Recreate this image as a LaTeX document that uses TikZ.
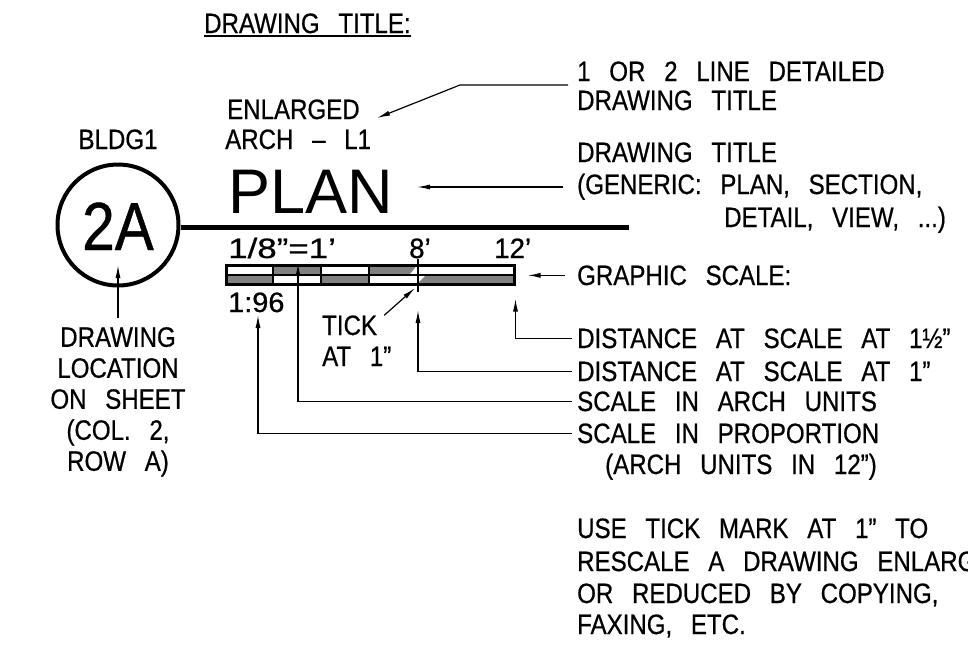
\documentclass[tikz,border=0pt]{standalone}
\usepackage{fontspec}
\setmainfont[FakeStretch=0.86,WordSpace=2.8,FakeBold=0.6]{Liberation Sans}
\newfontfamily\bigfont{Liberation Sans}
\usetikzlibrary{arrows.meta}

\tikzset{
  txt/.style={inner sep=0pt,anchor=base west,font=\fontsize{28}{31}\selectfont},
  ctxt/.style={txt,anchor=base},
  lead/.style={line width=1.2pt},
  leadarrow/.style={lead,-{Latex[length=13pt,width=5pt]}},
  cell/.style={fill=black!50},
}

\begin{document}
\begin{tikzpicture}[x=1pt,y=-1pt]
		\useasboundingbox (0,0) rectangle (968,646);
		\clip (0,0) rectangle (968,646);
		% heading
		\node[txt] (head) at (204,33) {DRAWING TITLE:};
		\draw[line width=1.8pt] ([yshift=-3pt]head.base west) -- ([yshift=-3pt]head.base east);
		% bubble and title line
		\node[circle,draw,line width=4pt,minimum size=121pt,inner sep=0pt] (bub) at (118,225) {};
		\node[ctxt,font=\fontsize{68}{68}\selectfont] (num) at (118,250) {2A};
		\node[ctxt] (bldg) at (118,149) {BLDG1};
		\coordinate (lend) at (629,227);
		\draw[line width=5pt] (bub.east |- lend) -- (lend);
		\node[txt] (enl) at (227,119) {ENLARGED};
		\node[txt] (arch) at (225,149) {ARCH – L1};
		\node[txt,font=\bigfont\fontsize{63}{63}\selectfont] (plan) at (228,213) {PLAN};
		% graphic scale
		\fill[cell] (225,274) rectangle (273,283);
		\fill[cell] (273,264) rectangle (321,274);
		\fill[cell] (321,274) rectangle (369,283);
		\fill[cell] (369,264) -- (418,264) -- (410,274) -- (369,274) -- cycle;
		\fill[cell] (427,274) -- (513,274) -- (513,283) -- (418,283) -- cycle;
		\node[draw,line width=2.5pt,minimum width=288pt,minimum height=19pt,inner sep=0pt,anchor=north west] (bar) at (225,264) {};
		\draw[line width=2pt] (bar.west) -- (bar.east);
		\foreach \x in {273,321,369}
			\draw[line width=2pt] (\x,264) -- (\x,283);
		\draw[line width=2pt] (418,259) -- (418,292);
		\node[txt] (frac) at (228,258) {\scalebox{1.45}[1]{1/8”=1’}};
		\node[txt] (eight) at (409,258) {\scalebox{1.15}[1]{8’}};
		\node[txt] (twelve) at (494,258) {\scalebox{1.15}[1]{12’}};
		\node[txt] (ratio) at (228,312) {\scalebox{1.2}[1]{1:96}};
		\node[txt] (tick) at (322,335) {TICK};
		\node[txt] (tickat) at (322,366) {AT 1”};
		\coordinate (ttip) at (415,288);
		\draw[leadarrow] ([xshift=7pt]tick.north east) -- (ttip);
		% location note
		\node[align=center,anchor=north,inner sep=0pt,font=\fontsize{28}{31}\selectfont] (loc) at (118,327) {DRAWING\\LOCATION\\ON SHEET\\(COL. 2,\\ROW A)};
		\coordinate (ctip) at (118,265);
		\draw[leadarrow] ([yshift=9pt]loc.north) -- (ctip);
		% notes on the right
		\node[txt] (r1) at (577,81) {1 OR 2 LINE DETAILED};
		\node[txt] (r2) at (577,110) {DRAWING TITLE};
		\node[txt] (r3) at (577,162) {DRAWING TITLE};
		\node[txt] (r4) at (577,194) {(GENERIC: PLAN, SECTION,};
		\node[txt] (r5) at (724,227) {DETAIL, VIEW, ...)};
		\node[txt] (r6) at (577,285) {GRAPHIC SCALE:};
		\node[txt] (r7) at (577,348) {DISTANCE AT SCALE AT 1½”};
		\node[txt] (r8) at (577,381) {DISTANCE AT SCALE AT 1”};
		\node[txt] (r9) at (577,411) {SCALE IN ARCH UNITS};
		\node[txt] (r10) at (577,443) {SCALE IN PROPORTION};
		\node[txt] (r11) at (605,474) {(ARCH UNITS IN 12”)};
		\node[txt] (n1) at (577,538) {USE TICK MARK AT 1” TO};
		\node[txt] (n2) at (577,571) {RESCALE A DRAWING ENLARGED};
		\node[txt] (n3) at (577,603) {OR REDUCED BY COPYING,};
		\node[txt] (n4) at (577,634) {FAXING, ETC.};
		% leaders
		\coordinate (ebend) at (460,85);
		\coordinate (etip) at (377,118);
		\draw[leadarrow] ([shift={(-9pt,-4pt)}]r1.base west) -- (ebend) -- (etip);
		\coordinate (ptip) at (417,187);
		\draw[leadarrow] ([xshift=-14pt]r3.west |- ptip) -- (ptip);
		\draw[leadarrow] ([xshift=-12pt]r6.west) -- ([xshift=12pt]bar.east |- r6.west);
		\draw[leadarrow] ([xshift=-5pt]r7.west) -| ([yshift=-13pt]bar.south east);
		\draw[leadarrow] ([xshift=-5pt]r8.west) -| (418,310);
		\draw[leadarrow] ([xshift=-5pt]r9.west) -| (298,263);
		\draw[leadarrow] ([xshift=-5pt]r10.west) -| (258,315);
\end{tikzpicture}
\end{document}
